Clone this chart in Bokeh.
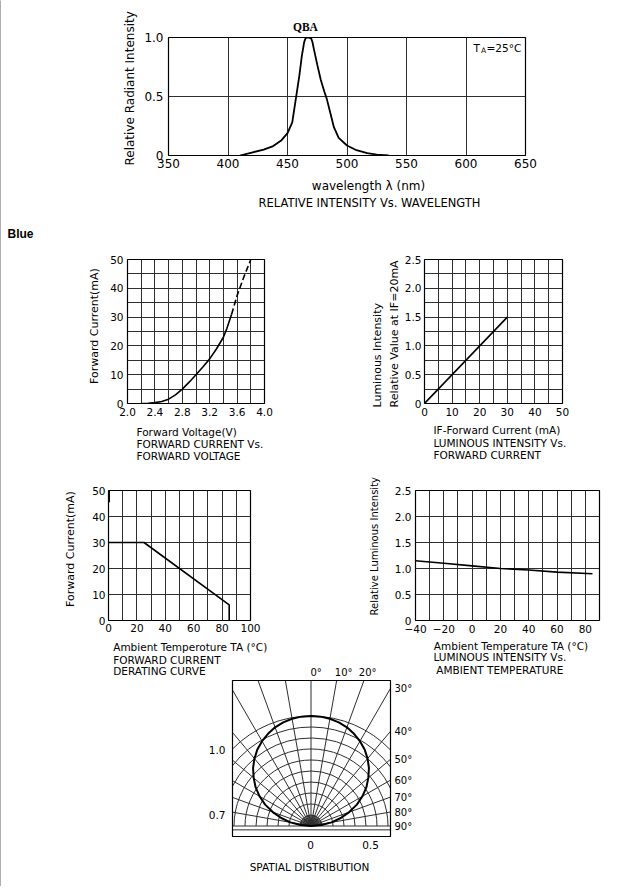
import math
from bokeh.plotting import figure
from bokeh.models import Range1d, FixedTicker, Title
from bokeh.layouts import column, row
from bokeh.core.properties import value
from bokeh.embed import file_html
from bokeh.resources import INLINE

FONT = "DejaVu Sans"
INK = "black"
GRID = "#2e2e2e"

# ---------------- data ----------------
# Relative intensity vs wavelength
spec_wl = [410, 420, 430, 438, 445, 450, 454, 457, 460, 462, 464, 465, 466, 468, 470, 471, 472,
           475, 478, 481, 483, 486, 489, 493, 500, 508, 517, 525, 535]
spec_val = [0.0, 0.025, 0.05, 0.08, 0.13, 0.19, 0.28, 0.48, 0.68, 0.84, 0.96, 0.99, 1.0, 1.0,
            0.99, 0.96, 0.91, 0.77, 0.64, 0.54, 0.48, 0.36, 0.24, 0.15, 0.085, 0.045, 0.02,
            0.008, 0.0]
top_x_ticks = [350, 400, 450, 500, 550, 600, 650]
top_x_labels = ["350", "400", "450", "500", "550", "600", "650"]
top_x_grid = [400, 450, 500, 550, 600]
top_y_ticks = [0, 0.5, 1.0]
top_y_labels = ["0", "0.5", "1.0"]
top_y_grid = [0.5]

# Forward current vs forward voltage
iv_v = [2.2, 2.3, 2.4, 2.5, 2.6, 2.7, 2.8, 2.9, 3.0, 3.1, 3.2, 3.3, 3.4, 3.45, 3.52]
iv_i = [0.0, 0.1, 0.3, 0.7, 1.5, 3.0, 5.0, 7.4, 10.0, 12.7, 15.5, 19.0, 23.0, 26.0, 31.0]
iv_v_dash = [3.52, 3.6, 3.7, 3.8]
iv_i_dash = [31.0, 37.5, 44.0, 50.0]
c2_x_ticks = [2.0, 2.4, 2.8, 3.2, 3.6, 4.0]
c2_x_labels = ["2.0", "2.4", "2.8", "3.2", "3.6", "4.0"]
c2_x_grid = [2.2, 2.4, 2.6, 2.8, 3.0, 3.2, 3.4, 3.6, 3.8]
c2_y_ticks = [0, 10, 20, 30, 40, 50]
c2_y_labels = ["0", "10", "20", "30", "40", "50"]
c2_y_grid = [5, 10, 15, 20, 25, 30, 35, 40, 45]

# Luminous intensity vs forward current
li_if = [0, 30]
li_rel = [0.0, 1.5]
c3_x_ticks = [0, 10, 20, 30, 40, 50]
c3_x_labels = ["0", "10", "20", "30", "40", "50"]
c3_x_grid = [5, 10, 15, 20, 25, 30, 35, 40, 45]
c3_y_ticks = [0, 0.5, 1.0, 1.5, 2.0, 2.5]
c3_y_labels = ["0", "0.5", "1.0", "1.5", "2.0", "2.5"]
c3_y_grid = [0.25, 0.5, 0.75, 1.0, 1.25, 1.5, 1.75, 2.0, 2.25]

# Forward current derating curve
der_t = [0, 25, 85, 85]
der_i = [30, 30, 6, 0]
c4_x_ticks = [0, 20, 40, 60, 80, 100]
c4_x_labels = ["0", "20", "40", "60", "80", "100"]
c4_x_grid = [10, 20, 30, 40, 50, 60, 70, 80, 90]
c4_y_ticks = [0, 10, 20, 30, 40, 50]
c4_y_labels = ["0", "10", "20", "30", "40", "50"]
c4_y_grid = [10, 20, 30, 40]

# Luminous intensity vs ambient temperature
lt_t = [-40, -20, 0, 20, 40, 60, 85]
lt_rel = [1.15, 1.10, 1.05, 1.0, 0.97, 0.93, 0.90]
c5_x_ticks = [-40, -20, 0, 20, 40, 60, 80]
c5_x_labels = ["\u221240", "\u221220", "0", "20", "40", "60", "80"]
c5_x_grid = [-30, -20, -10, 0, 10, 20, 30, 40, 50, 60, 70, 80]
c5_y_ticks = [0, 0.5, 1.0, 1.5, 2.0, 2.5]
c5_y_labels = ["0", "0.5", "1.0", "1.5", "2.0", "2.5"]
c5_y_grid = [0.5, 1.0, 1.5, 2.0]

# Spatial distribution (relative intensity vs angle off axis)
pol_ang = [0, 5, 10, 15, 20, 25, 30, 35, 40, 45, 50, 55, 60, 65, 70, 75, 80, 85, 90]
pol_int = [1.0, 0.998, 0.99, 0.975, 0.955, 0.925, 0.89, 0.85, 0.80, 0.745, 0.68,
           0.615, 0.54, 0.46, 0.37, 0.28, 0.19, 0.095, 0.0]
pol_rings = [0.1, 0.2, 0.3, 0.4, 0.5, 0.6, 0.7, 0.8, 0.9, 1.0]
pol_spokes = [-90, -80, -70, -60, -50, -40, -30, -20, -10, 0, 10, 20, 30, 40, 50, 60, 70, 80, 90]
pol_right_labels = [30, 40, 50, 60, 70, 80, 90]
pol_top_labels = ["0\u00b0", "10\u00b0", "20\u00b0"]

# ---------------- page geometry (pixels) ----------------
X0, XR = 1, 639          # main column spans x 1..639 (x 0 is the grey rule)
PAGE_H = 886


def chart_fig(x0, x1, y0, y1, FL, FR, FT, FB, L, R, T, B):
    p = figure(x_range=Range1d(x0, x1), y_range=Range1d(y0, y1),
               frame_width=FR - FL, frame_height=FB - FT,
               min_border_left=FL - L, min_border_right=R - FR,
               min_border_top=FT - T, min_border_bottom=B - FB,
               output_backend="svg", toolbar_location=None, tools="", title=None)
    p.outline_line_color = INK
    p.outline_line_width = 1.2
    p.background_fill_color = "white"
    p.border_fill_color = "white"
    return p


def plain_fig(x0, x1, y0, y1, w, h):
    p = figure(x_range=Range1d(x0, x1), y_range=Range1d(y0, y1),
               frame_width=w, frame_height=h, min_border=0,
               x_axis_location=None, y_axis_location=None,
               output_backend="svg", toolbar_location=None, tools="", title=None)
    p.outline_line_color = None
    p.background_fill_color = "white"
    p.border_fill_color = "white"
    p.grid.visible = False
    p.grid.grid_line_color = None
    return p


def setup(p, xt, xl, xg, yt, yl, yg, fs, xso=4, yso=4):
    p.xaxis.ticker = FixedTicker(ticks=xt, minor_ticks=[])
    p.yaxis.ticker = FixedTicker(ticks=yt, minor_ticks=[])
    p.xaxis.major_label_overrides = dict(zip(xt, xl))
    p.yaxis.major_label_overrides = dict(zip(yt, yl))
    p.xgrid.ticker = FixedTicker(ticks=xg, minor_ticks=[])
    p.ygrid.ticker = FixedTicker(ticks=yg, minor_ticks=[])
    p.grid.grid_line_color = GRID
    p.grid.grid_line_width = 1
    p.axis.axis_line_color = None
    p.axis.major_tick_line_color = None
    p.axis.minor_tick_line_color = None
    p.axis.major_tick_out = 0
    p.axis.major_tick_in = 0
    p.axis.major_label_text_font = FONT
    p.axis.major_label_text_font_size = fs
    p.axis.major_label_text_color = INK
    p.xaxis.major_label_standoff = xso
    p.yaxis.major_label_standoff = yso


def title(p, side, text, size, offset, standoff, font=FONT, style="normal"):
    # align="left": text starts at the frame's left edge (above) or bottom edge (left),
    # shifted by offset pixels
    p.add_layout(Title(text=text, align="left", offset=offset, standoff=standoff,
                       vertical_align="middle", text_font=font, text_font_size=size,
                       text_font_style=style, text_color=INK), side)


def ptext(p, xs, ys, texts, size, align="left", style="normal", font=FONT):
    p.text(x=xs, y=ys, text=texts, text_font=value(font), text_font_size=value(size),
           text_font_style=value(style), text_align=value(align),
           text_baseline=value("middle"), text_color=INK)


# ---------------- grey rule at the page's left edge ----------------
pLine = plain_fig(0, 1, 0, 1, 1, PAGE_H)
pLine.background_fill_color = "#5c5c5c"

# ---------------- top: spectrum ----------------
pT = chart_fig(350, 650, 0, 1.0, 168, 525, 37, 155, X0, XR, 0, 176)
setup(pT, top_x_ticks, top_x_labels, top_x_grid, top_y_ticks, top_y_labels, top_y_grid,
      "12px", xso=3, yso=5)
pT.line(spec_wl, spec_val, line_color=INK, line_width=1.8)
title(pT, "above", "QBA", "11.5px", 124.5, 7, font="Liberation Serif", style="bold")
title(pT, "left", "Relative Radiant Intensity", "12px", -10, 8)


def tx(xr):
    return 350 + (xr - 168) * 300.0 / 357.0


def ty(yr):
    return (155 - yr) / 118.0


ptext(pT, [tx(473)], [ty(47)], ["T"], "10.5px")
ptext(pT, [tx(480.5)], [ty(50)], ["A"], "7.5px")
ptext(pT, [tx(486)], [ty(47)], ["=25\u00b0C"], "10.5px")

# captions under the top chart + section heading
tT = plain_fig(X0, XR, 245, 176, XR - X0, 245 - 176)
ptext(tT, [368], [185], ["wavelength \u03bb (nm)"], "12px", align="center")
ptext(tT, [369], [202], ["RELATIVE INTENSITY Vs. WAVELENGTH"], "11.5px", align="center")
ptext(tT, [7], [233], ["Blue"], "12px", style="bold", font="Liberation Sans")

# ---------------- IV curve ----------------
p2 = chart_fig(2.0, 4.0, 0, 50, 127, 264, 259, 403, X0, 330, 245, 420)
setup(p2, c2_x_ticks, c2_x_labels, c2_x_grid, c2_y_ticks, c2_y_labels, c2_y_grid, "10.5px")
p2.line(iv_v, iv_i, line_color=INK, line_width=1.6)
p2.line(iv_v_dash, iv_i_dash, line_color=INK, line_width=1.6, line_dash="6 3")
title(p2, "left", "Forward Current(mA)", "11px", 19.5, 11)

# ---------------- Luminous vs IF ----------------
p3 = chart_fig(0, 50, 0, 2.5, 424, 562, 259, 403, 330, XR, 245, 420)
setup(p3, c3_x_ticks, c3_x_labels, c3_x_grid, c3_y_ticks, c3_y_labels, c3_y_grid, "10.5px",
      yso=3)
p3.line(li_if, li_rel, line_color=INK, line_width=1.6)
title(p3, "left", "Relative Value at IF=20mA", "11px", -4, 0)
title(p3, "left", "Luminous Intensity", "11px", -4, 4)

# captions under row 2
t2 = plain_fig(X0, XR, 470, 420, XR - X0, 50)
ptext(t2, [136, 136, 136], [431, 443.3, 455],
      ["Forward Voltage(V)", "FORWARD CURRENT Vs.", "FORWARD VOLTAGE"], "10.5px")
ptext(t2, [433, 433, 433], [429, 442.7, 454],
      ["IF-Forward Current (mA)", "LUMINOUS INTENSITY Vs.", "FORWARD CURRENT"], "10.5px")

# ---------------- Derating ----------------
p4 = chart_fig(0, 100, 0, 50, 108, 250, 490, 620, X0, 330, 470, 636)
setup(p4, c4_x_ticks, c4_x_labels, c4_x_grid, c4_y_ticks, c4_y_labels, c4_y_grid, "10.5px",
      xso=3, yso=3)
p4.line(der_t, der_i, line_color=INK, line_width=1.6)
p4.line([0, 0], [50, 45.5], line_color=INK, line_width=3)
title(p4, "left", "Forward Current(mA)", "11px", 13.5, 24)

# ---------------- Luminous vs temperature ----------------
p5 = chart_fig(-40, 90, 0, 2.5, 415, 599, 490, 620, 330, XR, 470, 636)
setup(p5, c5_x_ticks, c5_x_labels, c5_x_grid, c5_y_ticks, c5_y_labels, c5_y_grid, "10.5px")
p5.line(lt_t, lt_rel, line_color=INK, line_width=1.6)
title(p5, "left", "Relative Luminous Intensity", "10px", 5, 22)

# ---------------- Spatial distribution (+ captions of row 3) ----------------
S, OX, OY = 110.0, 310.5, 825.5
PT, PB = 636, PAGE_H
pP = plain_fig((X0 - OX) / S, (XR - OX) / S, (OY - PB) / S, (OY - PT) / S, XR - X0, PB - PT)


def dx(x):
    return (x - OX) / S


def dy(y):
    return (OY - y) / S


bx0, bx1, by0, by1 = dx(232), dx(390), dy(836), dy(680)

for r in pol_rings:
    a0 = math.acos(bx1 / r) if r > bx1 else 0.0
    a1 = math.pi - math.acos(-bx0 / r) if r > -bx0 else math.pi
    pP.arc(x=0, y=0, radius=r, start_angle=a0, end_angle=a1, line_color=GRID, line_width=1)

xs_, ys_ = [], []
for a in pol_spokes:
    t = math.radians(a)
    s_, c_ = math.sin(t), math.cos(t)
    lim = []
    if s_ > 1e-9:
        lim.append(bx1 / s_)
    if s_ < -1e-9:
        lim.append(bx0 / s_)
    if c_ > 1e-9:
        lim.append(by1 / c_)
    L = min(lim)
    xs_.append([0, L * s_])
    ys_.append([0, L * c_])
for a in range(-85, 90, 10):
    t = math.radians(a)
    xs_.append([0, 0.1 * math.sin(t)])
    ys_.append([0, 0.1 * math.cos(t)])
pP.multi_line(xs_, ys_, line_color=GRID, line_width=1)
pP.line([bx0, bx1], [-0.035, -0.035], line_color=GRID, line_width=1)
pP.quad(left=bx0, right=bx1, bottom=by0, top=by1, fill_color=None, line_color=INK,
        line_width=1.2)

ang_full = [-a for a in pol_ang[::-1]][:-1] + pol_ang
int_full = pol_int[::-1][:-1] + pol_int
px = [r * math.sin(math.radians(a)) for a, r in zip(ang_full, int_full)]
py = [r * math.cos(math.radians(a)) for a, r in zip(ang_full, int_full)]
pP.line(px, py, line_color=INK, line_width=2)

ry = []
for a in pol_right_labels:
    yref = OY - (390 - OX) / math.tan(math.radians(a)) if a < 90 else OY
    ry.append(dy(yref + 0.5))
ptext(pP, [dx(394)] * len(ry), ry, ["%d\u00b0" % a for a in pol_right_labels], "10px")
ptext(pP, [dx(310), dx(334.3), dx(358.3)], [dy(672.3)] * 3, pol_top_labels, "10px")
ptext(pP, [dx(225), dx(225)], [dy(749), dy(814)], ["1.0", "0.7"], "10.5px", align="right")
ptext(pP, [dx(310), dx(370)], [dy(844.3)] * 2, ["0", "0.5"], "10.5px", align="center")
ptext(pP, [dx(309)], [dy(866.7)], ["SPATIAL DISTRIBUTION"], "10.5px", align="center")
# captions of the derating / temperature charts
ptext(pP, [dx(112.7)] * 3, [dy(646.7), dy(659.3), dy(670.7)],
      ["Ambient Temperoture TA (\u00b0C)", "FORWARD CURRENT", "DERATING CURVE"], "10.5px")
ptext(pP, [dx(433.3), dx(433), dx(435.7)], [dy(645.7), dy(656.7), dy(669.3)],
      ["Ambient Temperature TA (\u00b0C)", "LUMINOUS INTENSITY Vs.", "AMBIENT TEMPERATURE"],
      "10.5px")

main = column(row(pT), tT, row(p2, p3), t2, row(p4, p5), pP)
layout = row(pLine, main)
open("out.html", "w").write(file_html(layout, INLINE))
